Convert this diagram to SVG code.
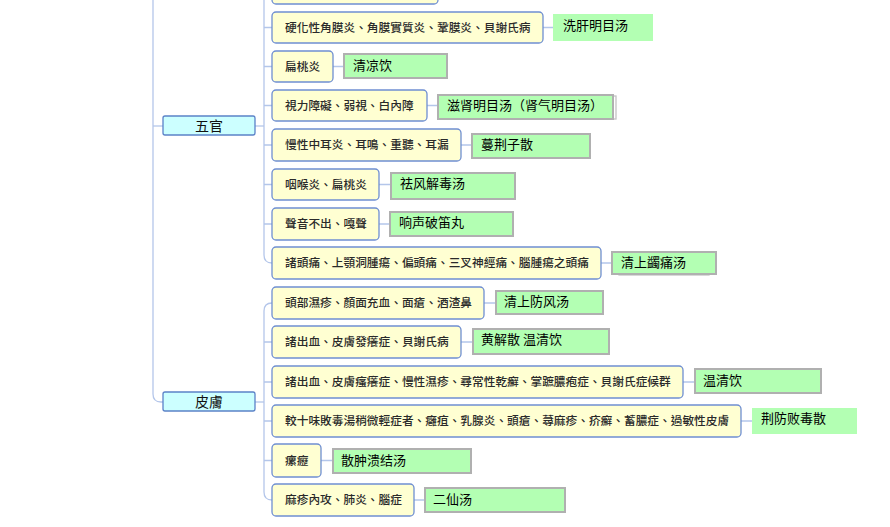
<svg xmlns="http://www.w3.org/2000/svg" width="890" height="527" viewBox="0 0 890 527">
<style>
.bg{fill:#ffffff}
.cn{fill:none;stroke:#b4c6ea;stroke-width:1.3}
.cat rect{fill:#ccffff;stroke:#5b82c8;stroke-width:1.3}
.cat text{font-family:"Noto Sans CJK TC","Noto Sans CJK SC",sans-serif;font-size:14px;fill:#111;text-anchor:middle}
.sym rect{fill:#ffffd2;stroke:#6f8fd2;stroke-width:1.3}
.sym text{font-family:"Noto Sans CJK TC","Noto Sans CJK SC",sans-serif;font-size:11.7px;font-weight:500;fill:#2a2a2a}
.rx rect{fill:#b3ffb3;stroke:#b0b0b0;stroke-width:2}
.rx rect.nb{stroke:none}
.rx rect.sh{fill:none;stroke:#c4c4c4;stroke-width:1.3}
.rx text{font-family:"Noto Sans CJK SC","Noto Sans CJK TC",sans-serif;font-size:13px;font-weight:400;fill:#000}
</style>
<rect class="bg" x="0" y="0" width="890" height="527"/>
<g id="connectors">
<path class="cn" d="M153,0 V394 Q153,402 161,402 H163"/>
<path class="cn" d="M153,126 H163"/>
<path class="cn" d="M255,126 H264"/>
<path class="cn" d="M264,0 V255 Q264,263 272,263"/>
<path class="cn" d="M264,27.5 H272 M264,66.5 H272 M264,105.5 H272 M264,145 H272 M264,184.5 H272 M264,224 H272"/>
<path class="cn" d="M255,402 H264"/>
<path class="cn" d="M272,303 Q264,303 264,311 V492 Q264,500 272,500"/>
<path class="cn" d="M264,342 H272 M264,382 H272 M264,421 H272 M264,460.5 H272"/>
<path class="cn" d="M543,27.5 H553 M333,66.5 H343 M427,105.5 H438 M461,145 H472 M379,184.5 H391 M379,224 H390 M601,263 H612"/>
<path class="cn" d="M484,303 H496 M461,342 H472 M683,382 H695 M741,421 H752 M321,460.5 H333 M414,500 H425"/>
</g>
<g id="cat-wuguan" class="cat"><rect x="163" y="116" width="92" height="19" rx="2"/><text x="209" y="131">五官</text></g>
<g id="cat-pifu" class="cat"><rect x="163" y="392" width="92" height="19" rx="2"/><text x="209" y="407">皮膚</text></g>
<g id="s0" class="sym"><rect x="272" y="-28" width="166" height="32" rx="4"/></g>
<g id="s1" class="sym"><rect x="272" y="12" width="271" height="31" rx="4"/><text x="285" y="32">硬化性角膜炎、角膜實質炎、鞏膜炎、貝謝氏病</text></g>
<g id="r1" class="rx"><rect class="nb" x="553" y="14" width="100" height="27"/><text x="563" y="30">洗肝明目汤</text></g>
<g id="s2" class="sym"><rect x="272" y="51" width="61" height="31" rx="4"/><text x="285" y="71">扁桃炎</text></g>
<g id="r2" class="rx"><rect x="344" y="54" width="103" height="24"/><text x="353" y="70">清凉饮</text></g>
<g id="s3" class="sym"><rect x="272" y="90" width="155" height="31" rx="4"/><text x="285" y="110">視力障礙、弱視、白內障</text></g>
<g id="r3" class="rx"><rect class="sh" x="441" y="96" width="175" height="23"/><rect x="438" y="95" width="175" height="24"/><text x="447" y="110">滋肾明目汤（肾气明目汤）</text></g>
<g id="s4" class="sym"><rect x="272" y="129" width="189" height="32" rx="4"/><text x="285" y="149">慢性中耳炎、耳鳴、重聽、耳漏</text></g>
<g id="r4" class="rx"><rect x="472" y="134" width="118" height="24"/><text x="481" y="149">蔓荆子散</text></g>
<g id="s5" class="sym"><rect x="272" y="169" width="107" height="31" rx="4"/><text x="285" y="189">咽喉炎、扁桃炎</text></g>
<g id="r5" class="rx"><rect x="391" y="173" width="124" height="26"/><text x="400" y="188">祛风解毒汤</text></g>
<g id="s6" class="sym"><rect x="272" y="208" width="107" height="32" rx="4"/><text x="285" y="228">聲音不出、嘎聲</text></g>
<g id="r6" class="rx"><rect x="390" y="212" width="123" height="24"/><text x="399" y="227">响声破笛丸</text></g>
<g id="s7" class="sym"><rect x="272" y="247" width="329" height="32" rx="4"/><text x="285" y="267">諸頭痛、上顎洞腫瘍、偏頭痛、三叉神經痛、腦腫瘍之頭痛</text></g>
<g id="r7" class="rx"><rect class="sh" x="619" y="254" width="90" height="21"/><rect x="612" y="252" width="104" height="22"/><text x="621" y="267">清上蠲痛汤</text></g>
<g id="p1" class="sym"><rect x="272" y="287" width="212" height="32" rx="4"/><text x="285" y="307">頭部濕疹、顏面充血、面瘡、酒渣鼻</text></g>
<g id="q1" class="rx"><rect x="496" y="291" width="107" height="23"/><text x="504" y="306">清上防风汤</text></g>
<g id="p2" class="sym"><rect x="272" y="326" width="189" height="32" rx="4"/><text x="285" y="346">諸出血、皮膚發癢症、貝謝氏病</text></g>
<g id="q2" class="rx"><rect x="473" y="329" width="136" height="25"/><text x="481" y="344">黄解散 温清饮</text></g>
<g id="p3" class="sym"><rect x="272" y="366" width="411" height="32" rx="4"/><text x="285" y="386">諸出血、皮膚瘙癢症、慢性濕疹、尋常性乾癬、掌蹠膿疱症、貝謝氏症候群</text></g>
<g id="q3" class="rx"><rect x="695" y="369" width="126" height="24"/><text x="703" y="385">温清饮</text></g>
<g id="p4" class="sym"><rect x="272" y="405" width="469" height="32" rx="4"/><text x="285" y="425">較十味敗毒湯稍微輕症者、癰疽、乳腺炎、頭瘡、蕁麻疹、疥癬、蓄膿症、過敏性皮膚</text></g>
<g id="q4" class="rx"><rect class="nb" x="752" y="408" width="105" height="26"/><text x="761" y="423">荆防败毒散</text></g>
<g id="p5" class="sym"><rect x="272" y="444" width="49" height="33" rx="4"/><text x="285" y="465">瘰癧</text></g>
<g id="q5" class="rx"><rect x="333" y="449" width="138" height="24"/><text x="341" y="465">散肿溃结汤</text></g>
<g id="p6" class="sym"><rect x="272" y="484" width="142" height="32" rx="4"/><text x="285" y="504">麻疹內攻、肺炎、腦症</text></g>
<g id="q6" class="rx"><rect x="425" y="488" width="140" height="24"/><text x="433" y="504">二仙汤</text></g>
</svg>
